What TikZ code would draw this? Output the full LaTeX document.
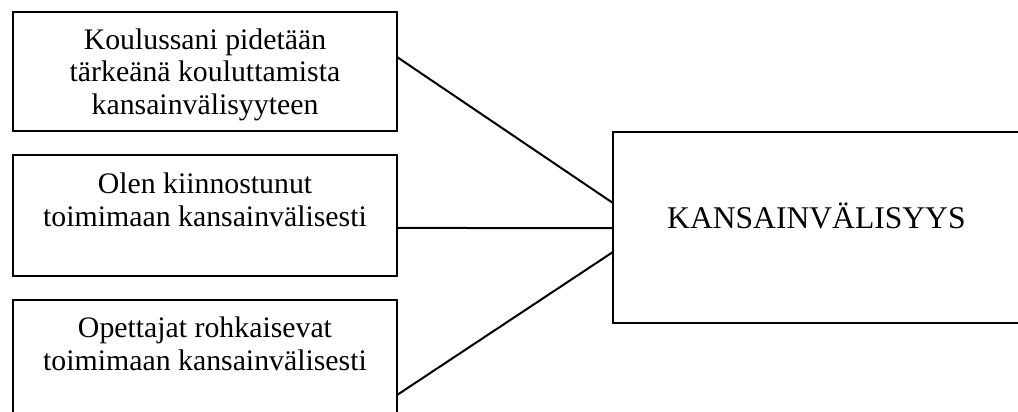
\documentclass[tikz,border=0pt]{standalone}
\usepackage{fontspec}
\setmainfont{Liberation Serif}
\usetikzlibrary{calc}
\tikzset{
  boxnode/.style={draw=black, line width=2pt, fill=white, inner sep=0pt, outer sep=0pt, anchor=north west},
  txt/.style={font=\fontsize{29.8}{32.5}\selectfont, align=center, inner sep=0pt, anchor=base},
  bigtxt/.style={font=\fontsize{31.6}{32.5}\selectfont, inner sep=0pt, anchor=base west},
  link/.style={draw=black, line width=2pt}
}
\begin{document}
\begin{tikzpicture}[x=1pt,y=-1pt]
\useasboundingbox (0,0) rectangle (1018,412);
\clip (0,0) rectangle (1018,412);
\fill[white] (0,0) rectangle (1018,412);
\node[boxnode, minimum width=384pt, minimum height=119pt] (b1) at (13,12) {};
\node[boxnode, minimum width=384pt, minimum height=121pt] (b2) at (13,155) {};
\node[boxnode, minimum width=384pt, minimum height=130pt] (b3) at (13,300) {};
\node[boxnode, minimum width=430pt, minimum height=191pt] (k) at (613,132) {};
\node[txt] (t1) at (205,114) {Koulussani pidetään\\tärkeänä kouluttamista\\kansainvälisyyteen};
\node[txt] (t2) at (205,226) {Olen kiinnostunut\\toimimaan kansainvälisesti};
\node[txt] (t3) at (205,370) {Opettajat rohkaisevat\\toimimaan kansainvälisesti};
\node[bigtxt] (tk) at (667,228) {KANSAINVÄLISYYS};
\draw[link] ($(b1.north east)!0.378!(b1.south east)$) -- ($(k.north west)!0.372!(k.south west)$);
\draw[link] ($(b2.north east)!0.603!(b2.south east)$) -- ($(k.north west)!0.503!(k.south west)$);
\draw[link] ($(b3.north east)!0.731!(b3.south east)$) -- ($(k.north west)!0.628!(k.south west)$);
\end{tikzpicture}
\end{document}
